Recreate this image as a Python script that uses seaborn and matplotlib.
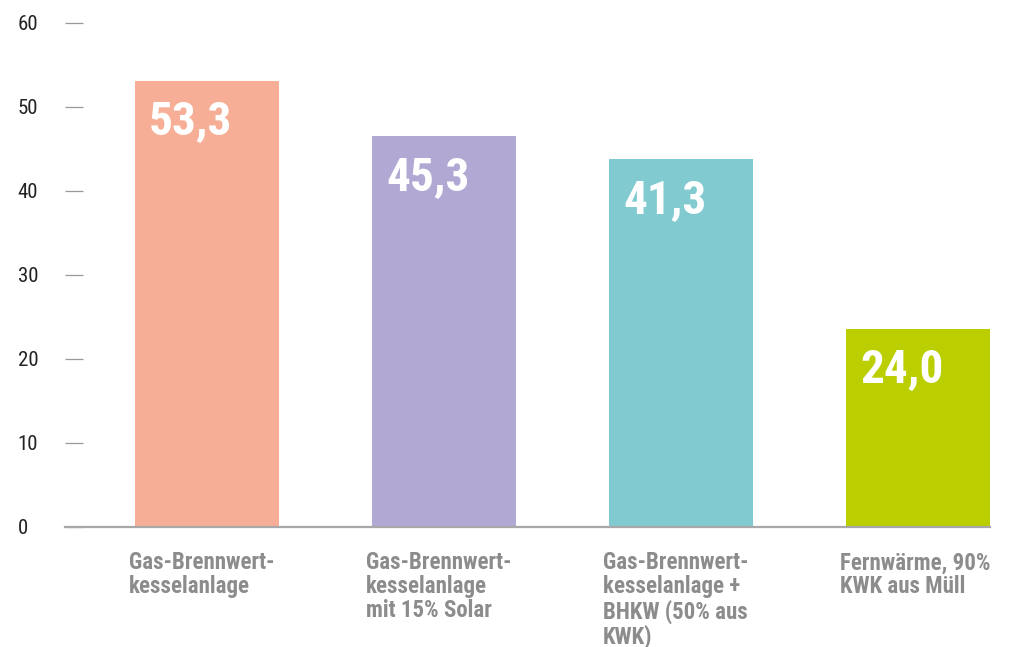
import matplotlib
matplotlib.use('Agg')
import matplotlib.pyplot as plt
import seaborn as sns
import pandas as pd
from matplotlib import font_manager

categories = ['Gas-Brennwert-\nkesselanlage',
              'Gas-Brennwert-\nkesselanlage\nmit 15% Solar',
              'Gas-Brennwert-\nkesselanlage +\nBHKW (50% aus\nKWK)',
              'Fernwärme, 90%\nKWK aus Müll']
heights = [53.1, 46.5, 43.8, 23.6]
value_labels = ['53,3', '45,3', '41,3', '24,0']
colors = ['#F6AF96', '#B1A8D3', '#80CAD0', '#BACE00']
yticks = [0, 10, 20, 30, 40, 50, 60]

# pick a condensed family that is installed
names = {f.name for f in font_manager.fontManager.ttflist}
wanted = ['Roboto Condensed', 'Archivo Narrow', 'Barlow Semi Condensed',
          'IBM Plex Sans Condensed', 'Liberation Sans Narrow']
narrow = next((n for n in wanted if n in names), 'DejaVu Sans')

sns.set_style('white')
plt.rcParams['font.family'] = [narrow, 'DejaVu Sans']

df = pd.DataFrame({'cat': categories, 'val': heights})

fig = plt.figure(figsize=(10.11, 6.47), dpi=100)
ax = fig.add_axes([65/1011, 1-527/647, 925/1011, 504/647])

sns.barplot(data=df, x='cat', y='val', hue='cat', palette=colors,
            width=0.608, saturation=1, legend=False, linewidth=0, ax=ax)

ax.set_xlim(-0.599, 3.304)
ax.set_ylim(0, 60)
for s in ['top', 'right', 'left']:
    ax.spines[s].set_visible(False)
ax.spines['bottom'].set_color('#a8a8a8')
ax.spines['bottom'].set_linewidth(1.6)

ax.set_yticks(yticks)
ax.set_yticklabels([str(t) for t in yticks], ha='left', fontsize=15, color='#222222')
ax.tick_params(axis='y', direction='in', length=13, width=0.9, color='#999999', pad=34, left=True)
ax.tick_params(axis='x', bottom=False, labelbottom=False)
ax.set_xlabel('')
ax.set_ylabel('')

w = 0.608
for i, (h, lab) in enumerate(zip(heights, value_labels)):
    ax.text(i - w/2 + 0.06, h - 2.2, lab, ha='left', va='top', color='white',
            fontsize=34, fontweight='bold')
    ax.text(i - w/2 - 0.025, -2.9, categories[i], ha='left', va='top', color='#8c8c8c',
            fontsize=16.5, fontweight='bold', linespacing=1.05)

fig.savefig('out.png', dpi=100)
